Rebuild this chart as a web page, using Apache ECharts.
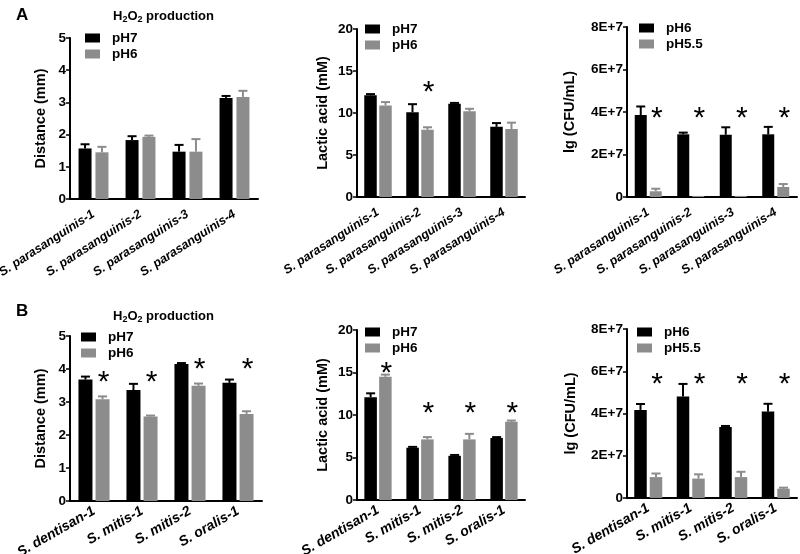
<!DOCTYPE html>
<html>
<head>
<meta charset="utf-8">
<script src="https://cdn.jsdelivr.net/npm/echarts@6/dist/echarts.min.js"></script>
<style>
  html, body { margin: 0; padding: 0; background: #fff; }
  #chart { width: 800px; height: 554px; }
</style>
</head>
<body>
<div id="chart"></div>
<script>
// categories
var catsA = ['S. parasanguinis-1', 'S. parasanguinis-2', 'S. parasanguinis-3', 'S. parasanguinis-4'];
var catsB = ['S. dentisan-1', 'S. mitis-1', 'S. mitis-2', 'S. oralis-1'];

// A - H2O2 production (mm)
var a1pH7 = [1.57, 1.83, 1.47, 3.14];
var a1pH7Err = [0.13, 0.12, 0.21, 0.06];
var a1pH6 = [1.45, 1.93, 1.47, 3.17];
var a1pH6Err = [0.17, 0.04, 0.39, 0.19];
// A - lactic acid (mM)
var a2pH7 = [12.1, 10.1, 11.1, 8.35];
var a2pH7Err = [0.15, 0.95, 0.1, 0.45];
var a2pH6 = [10.9, 8.0, 10.2, 8.1];
var a2pH6Err = [0.4, 0.3, 0.3, 0.75];
var a2Stars = [[1, 13.1]];
// A - CFU/mL
var a3pH6 = [3.86e7, 2.95e7, 2.93e7, 2.95e7];
var a3pH6Err = [0.4e7, 0.08e7, 0.35e7, 0.35e7];
var a3pH55 = [0.27e7, 0.05e7, 0.05e7, 0.47e7];
var a3pH55Err = [0.12e7, 0, 0, 0.14e7];
var a3Stars = [[0, 3.95e7], [1, 3.95e7], [2, 3.95e7], [3, 3.95e7]];

// B - H2O2 production (mm)
var b1pH7 = [3.68, 3.36, 4.15, 3.58];
var b1pH7Err = [0.09, 0.19, 0.03, 0.1];
var b1pH6 = [3.08, 2.56, 3.49, 2.64];
var b1pH6Err = [0.09, 0.03, 0.07, 0.08];
var b1Stars = [[0, 3.78], [1, 3.78], [2, 4.15], [3, 4.15]];
// B - lactic acid (mM)
var b2pH7 = [12.1, 6.15, 5.2, 7.3];
var b2pH7Err = [0.45, 0.1, 0.1, 0.1];
var b2pH6 = [14.5, 7.13, 7.13, 9.2];
var b2pH6Err = [0.25, 0.27, 0.65, 0.15];
var b2Stars = [[0, 15.6], [1, 10.8], [2, 10.8], [3, 10.8]];
// B - CFU/mL
var b3pH6 = [4.17e7, 4.8e7, 3.36e7, 4.1e7];
var b3pH6Err = [0.28e7, 0.6e7, 0.05e7, 0.36e7];
var b3pH55 = [0.99e7, 0.92e7, 0.99e7, 0.44e7];
var b3pH55Err = [0.17e7, 0.2e7, 0.25e7, 0.05e7];
var b3Stars = [[0, 5.65e7], [1, 5.65e7], [2, 5.65e7], [3, 5.65e7]];

var FONT = 'Arial, "Liberation Sans", sans-serif';
var BLACK = '#000000';
var GRAY = '#8c8c8c';

function eFmt(v) { return v === 0 ? '0' : (v / 1e7) + 'E+7'; }

var panels = [
  { grid: { left: 70, top: 38, width: 188, height: 161 }, cats: catsA, max: 5, interval: 1, name: 'Distance (mm)', nameGap: 22,
    n1: 'pH7', n2: 'pH6', v1: a1pH7, e1: a1pH7Err, v2: a1pH6, e2: a1pH6Err, stars: [], bw: 13, gap: 0.3, lg: [85, 31], xf: 12.5, xm: 14, xr: 33 },
  { grid: { left: 357, top: 29, width: 168, height: 168 }, cats: catsA, max: 20, interval: 5, name: 'Lactic acid (mM)', nameGap: 27,
    n1: 'pH7', n2: 'pH6', v1: a2pH7, e1: a2pH7Err, v2: a2pH6, e2: a2pH6Err, stars: a2Stars, bw: 12.5, gap: 0.2, lg: [365, 22], xf: 12.5, xm: 14, xr: 33 },
  { grid: { left: 627, top: 27, width: 170, height: 170 }, cats: catsA, max: 8e7, interval: 2e7, name: 'lg (CFU/mL)', nameGap: 50,
    n1: 'pH6', n2: 'pH5.5', v1: a3pH6, e1: a3pH6Err, v2: a3pH55, e2: a3pH55Err, stars: a3Stars, bw: 12, gap: 0.25, lg: [639, 21], fmt: eFmt, xf: 12.5, xm: 14, xr: 33 },
  { grid: { left: 70, top: 336, width: 192, height: 165 }, cats: catsB, max: 5, interval: 1, name: 'Distance (mm)', nameGap: 22,
    n1: 'pH7', n2: 'pH6', v1: b1pH7, e1: b1pH7Err, v2: b1pH6, e2: b1pH6Err, stars: b1Stars, bw: 14, gap: 0.22, lg: [81, 330], xf: 14, xm: 9, xr: 30 },
  { grid: { left: 357, top: 330, width: 168, height: 170 }, cats: catsB, max: 20, interval: 5, name: 'Lactic acid (mM)', nameGap: 27,
    n1: 'pH7', n2: 'pH6', v1: b2pH7, e1: b2pH7Err, v2: b2pH6, e2: b2pH6Err, stars: b2Stars, bw: 12.5, gap: 0.18, lg: [365, 325], xf: 14, xm: 9, xr: 30 },
  { grid: { left: 627, top: 329, width: 170, height: 169 }, cats: catsB, max: 8e7, interval: 2e7, name: 'lg (CFU/mL)', nameGap: 49,
    n1: 'pH6', n2: 'pH5.5', v1: b3pH6, e1: b3pH6Err, v2: b3pH55, e2: b3pH55Err, stars: b3Stars, bw: 12.5, gap: 0.24, lg: [637, 325], fmt: eFmt, xf: 14, xm: 9, xr: 30 }
];

// error bar: upper whisker only, same colour as the bar
function errSeries(idx, vals, errs, color, off) {
  var data = vals.map(function (v, i) { return [i, v, errs[i]]; });
  return {
    type: 'custom', xAxisIndex: idx, yAxisIndex: idx, z: 5, silent: true,
    encode: { x: 0, y: 1 },
    renderItem: function (params, api) {
      var e = api.value(2);
      if (!e) return null;
      var p0 = api.coord([api.value(0), api.value(1)]);
      var p1 = api.coord([api.value(0), api.value(1) + e]);
      var x = p0[0] + off;
      var st = { stroke: color, lineWidth: 2 };
      return { type: 'group', children: [
        { type: 'line', shape: { x1: x, y1: p0[1], x2: x, y2: p1[1] }, style: st },
        { type: 'line', shape: { x1: x - 4.5, y1: p1[1], x2: x + 4.5, y2: p1[1] }, style: st }
      ] };
    },
    data: data
  };
}

function starSeries(idx, stars, off) {
  return {
    type: 'custom', xAxisIndex: idx, yAxisIndex: idx, z: 6, silent: true,
    encode: { x: 0, y: 1 },
    renderItem: function (params, api) {
      var p = api.coord([api.value(0), api.value(1)]);
      return { type: 'text', style: { text: '*', x: p[0] + off, y: p[1] + 6, fill: BLACK,
        font: '30px ' + FONT, align: 'center', verticalAlign: 'middle' } };
    },
    data: stars
  };
}

var grids = [], xAxes = [], yAxes = [], series = [], legends = [];
panels.forEach(function (p, i) {
  p.grid.outerBoundsMode = 'none';
  p.grid.containLabel = false;
  grids.push(p.grid);
  xAxes.push({
    type: 'category', gridIndex: i, data: p.cats,
    axisLine: { lineStyle: { color: BLACK, width: 2 } },
    axisTick: { alignWithLabel: true, length: 4, lineStyle: { color: BLACK, width: 1.5 } },
    axisLabel: { interval: 0, rotate: p.xr, margin: p.xm, color: BLACK, fontSize: p.xf, fontWeight: 'bold', fontStyle: 'italic', fontFamily: FONT }
  });
  yAxes.push({
    type: 'value', gridIndex: i, min: 0, max: p.max, interval: p.interval,
    name: p.name, nameLocation: 'middle', nameGap: p.nameGap, nameRotate: 90,
    nameTextStyle: { color: BLACK, fontSize: 14.5, fontWeight: 'bold', fontFamily: FONT },
    axisLine: { show: true, lineStyle: { color: BLACK, width: 2 } },
    axisTick: { show: true, length: 4, lineStyle: { color: BLACK, width: 1.5 } },
    splitLine: { show: false },
    axisLabel: { margin: 4, color: BLACK, fontSize: 13.5, fontWeight: 'bold', fontFamily: FONT, formatter: p.fmt }
  });
  series.push({ name: p.n1, type: 'bar', xAxisIndex: i, yAxisIndex: i, data: p.v1, barWidth: p.bw,
    barGap: (p.gap * 100) + '%', itemStyle: { color: BLACK }, silent: true });
  series.push({ name: p.n2, type: 'bar', xAxisIndex: i, yAxisIndex: i, data: p.v2, barWidth: p.bw,
    itemStyle: { color: GRAY }, silent: true });
  var off = p.bw * (1 + p.gap) / 2;
  series.push(errSeries(i, p.v1, p.e1, BLACK, -off));
  series.push(errSeries(i, p.v2, p.e2, GRAY, off));
  if (p.stars.length) series.push(starSeries(i, p.stars, off + 1));
  legends.push({
    data: [{ name: p.n1, itemStyle: { color: BLACK } }, { name: p.n2, itemStyle: { color: GRAY } }],
    orient: 'vertical', left: p.lg[0], top: p.lg[1], padding: 0,
    itemWidth: 15, itemHeight: 9, itemGap: 2, icon: 'rect', selectedMode: false,
    textStyle: { color: BLACK, fontSize: 13.5, fontWeight: 'bold', fontFamily: FONT, lineHeight: 13, padding: [0, 0, 0, 7] }
  });
});

var h2o2 = '{a|H}{s|2}{a|O}{s|2}{a| production}';
var richT = {
  a: { fontSize: 13, fontWeight: 'bold', fontFamily: FONT, color: BLACK },
  s: { fontSize: 9, fontWeight: 'bold', fontFamily: FONT, color: BLACK, padding: [6, 0, 0, 0] }
};

var myChart = echarts.init(document.getElementById('chart'));
myChart.setOption({
  animation: false,
  title: [
    { text: 'A', left: 11, top: 2, textStyle: { fontSize: 17, fontWeight: 'bold', fontFamily: FONT, color: BLACK } },
    { text: 'B', left: 11, top: 298, textStyle: { fontSize: 17, fontWeight: 'bold', fontFamily: FONT, color: BLACK } },
    { text: h2o2, left: 108, top: 4, textStyle: { rich: richT } },
    { text: h2o2, left: 108, top: 304, textStyle: { rich: richT } }
  ],
  legend: legends,
  grid: grids,
  xAxis: xAxes,
  yAxis: yAxes,
  series: series
});
</script>
</body>
</html>
